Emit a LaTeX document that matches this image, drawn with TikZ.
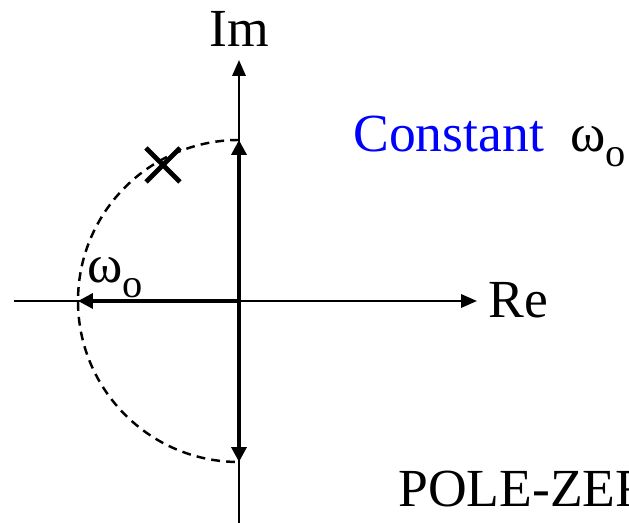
\documentclass[tikz,border=0pt]{standalone}
\usepackage{fontspec}
\setmainfont{Liberation Serif}
\usetikzlibrary{arrows.meta}
\newcommand{\omegao}{ω\raisebox{-8pt}{\fontsize{23}{23}\selectfont o}}
\begin{document}
\begin{tikzpicture}[font=\fontsize{30.5}{36}\selectfont]
            \useasboundingbox (-4.78,-4.44) rectangle (7.8,6.02);
            \clip (-4.78,-4.44) rectangle (7.8,6.02);

            % Stijlen
            \tikzset{as/.style={-{Triangle[length=9pt,width=7.5pt]}, line width=1.3pt},
                     vec/.style={-{Triangle[length=8.5pt,width=8.5pt]}, line width=2pt},
                     lbl/.style={anchor=base west, inner sep=0pt}}

            % Punten
            \coordinate (O) at (0,0);
            \coordinate (top) at (0,3.22);
            \coordinate (bot) at (0,-3.22);
            \coordinate (lft) at (-3.22,0);
            \coordinate (xmin) at (-4.5,0);
            \coordinate (xmax) at (4.76,0);
            \coordinate (ymin) at (0,-4.5);
            \coordinate (ymax) at (0,4.82);

            % Cirkel
            \draw[line width=1.4pt, dash pattern=on 5pt off 3.5pt] (top) arc[start angle=90, end angle=270, radius=3.22];

            % Vectoren
            \draw[vec] (O) -- (top);
            \draw[vec] (O) -- (bot);
            \draw[vec] (O) -- (lft);

            % Assen
            \draw[as] (xmin) -- (xmax);
            \draw[as] (ymin) -- (ymax);

            % Pool
            \draw[line width=2.7pt] (-1.86,2.38) -- (-1.18,3.06) (-1.86,3.06) -- (-1.18,2.38);

            % Labels
            \node[anchor=base, inner sep=0pt] (im) at (0,5.08) {Im};
            \node[lbl] (re) at (4.98,-0.34) {Re};
            \node[lbl] (w1) at (-3.04,0.36) {\omegao};
            \node[lbl, text=blue] (const) at (2.28,2.98) {Constant};
            \node[lbl] (w2) at (6.62,2.98) {\omegao};
            \node[lbl] (pz) at (3.18,-4.12) {POLE-ZER};
        \end{tikzpicture}
\end{document}
